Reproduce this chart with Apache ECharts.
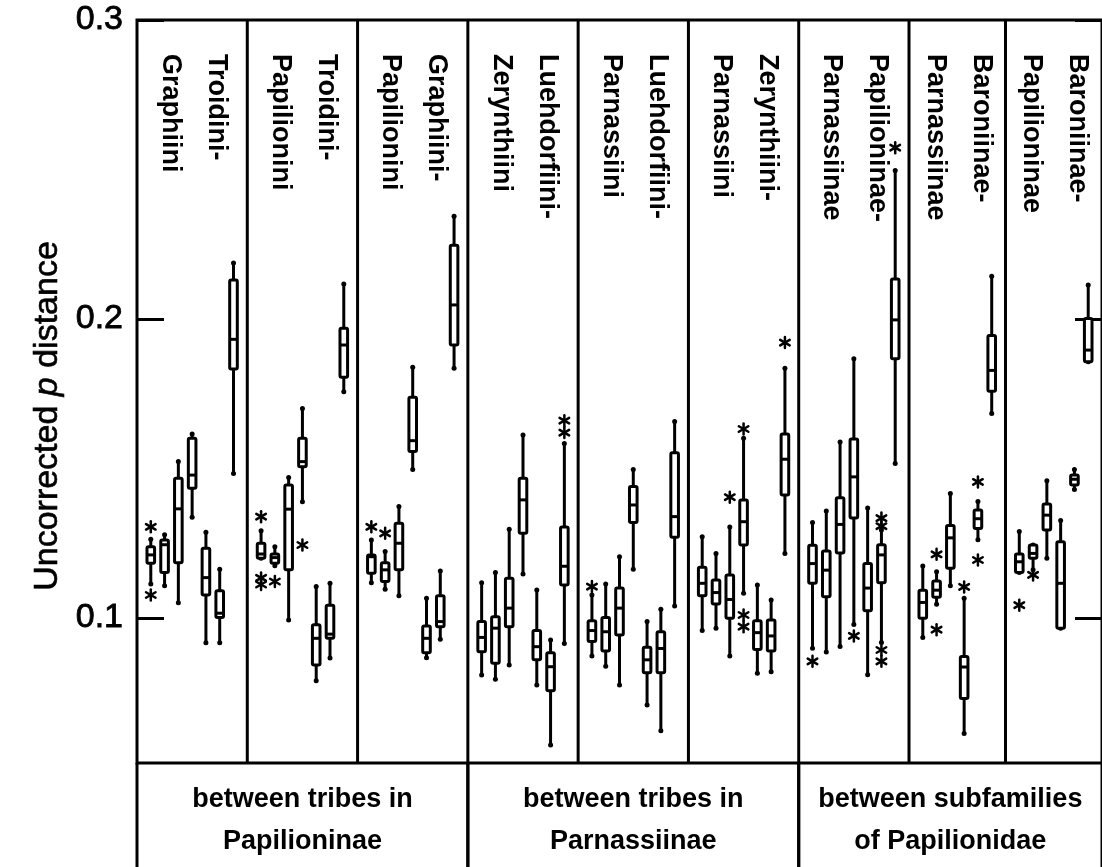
<!DOCTYPE html>
<html>
<head>
<meta charset="utf-8">
<script src="https://cdn.jsdelivr.net/npm/echarts@6/dist/echarts.min.js"></script>
<style>
  html, body { margin: 0; padding: 0; background: #fff; }
  #chart { width: 1102px; height: 867px; }
</style>
</head>
<body>
<div id="chart"></div>
<script>
// Pairwise comparison captions, one per panel (line 1, line 2)
const panelTitles = [
  ['Troidini-', 'Graphiini'],
  ['Troidini-', 'Papilionini'],
  ['Graphiini-', 'Papilionini'],
  ['Luehdorfiini-', 'Zerynthiini'],
  ['Luehdorfiini-', 'Parnassiini'],
  ['Zerynthiini-', 'Parnassiini'],
  ['Papilioninae-', 'Parnassiinae'],
  ['Baroniinae-', 'Parnassiinae'],
  ['Baroniinae-', 'Papilioninae']
];

// Group captions under the panels and the panel ranges they cover
const groupLabels = [
  ['between tribes in', 'Papilioninae'],
  ['between tribes in', 'Parnassiinae'],
  ['between subfamilies', 'of Papilionidae']
];
const groupPanels = [[0, 3], [3, 6], [6, 9]];

const yTicks = [0.1, 0.2, 0.3];

// Box summaries per panel: [low whisker, Q1, median, Q3, high whisker]
const panel1 = [
  [0.1114, 0.1183, 0.1211, 0.1238, 0.1263],
  [0.1108, 0.1152, 0.1245, 0.1261, 0.1278],
  [0.1051, 0.1185, 0.1365, 0.1467, 0.1523],
  [0.1337, 0.1434, 0.1478, 0.1601, 0.1615],
  [0.0917, 0.1077, 0.1135, 0.1233, 0.1287],
  [0.0917, 0.1002, 0.1016, 0.1091, 0.1163],
  [0.1483, 0.1833, 0.1932, 0.2130, 0.2187]
];
const panel2 = [
  [0.1200, 0.1200, 0.1214, 0.1250, 0.1292],
  [0.1175, 0.1183, 0.1202, 0.1214, 0.1238],
  [0.0993, 0.1161, 0.1364, 0.1445, 0.1470],
  [0.1389, 0.1506, 0.1523, 0.1601, 0.1701],
  [0.0790, 0.0843, 0.0932, 0.0977, 0.1105],
  [0.0866, 0.0932, 0.0946, 0.1043, 0.1116],
  [0.1757, 0.1805, 0.1913, 0.1969, 0.2117]
];
const panel3 = [
  [0.1118, 0.1150, 0.1205, 0.1211, 0.1261],
  [0.1096, 0.1122, 0.1161, 0.1185, 0.1222],
  [0.1074, 0.1161, 0.1250, 0.1317, 0.1373],
  [0.1497, 0.1557, 0.1593, 0.1738, 0.1839],
  [0.0867, 0.0884, 0.0932, 0.0973, 0.1066],
  [0.0929, 0.0971, 0.0988, 0.1074, 0.1157],
  [0.1835, 0.1913, 0.2047, 0.2247, 0.2344]
];
const panel4 = [
  [0.0809, 0.0887, 0.0935, 0.0988, 0.1118],
  [0.0795, 0.0849, 0.0966, 0.1004, 0.1152],
  [0.0843, 0.0971, 0.1033, 0.1133, 0.1297],
  [0.1147, 0.1283, 0.1395, 0.1467, 0.1612],
  [0.0776, 0.0860, 0.0904, 0.0958, 0.1094],
  [0.0575, 0.0757, 0.0837, 0.0884, 0.0926],
  [0.0915, 0.1110, 0.1173, 0.1304, 0.1584]
];
const panel5 = [
  [0.0873, 0.0921, 0.0958, 0.0991, 0.1077],
  [0.0839, 0.0890, 0.0954, 0.1002, 0.1114],
  [0.0776, 0.0943, 0.1033, 0.1100, 0.1205],
  [0.1163, 0.1319, 0.1378, 0.1440, 0.1497],
  [0.0709, 0.0817, 0.0860, 0.0902, 0.0988],
  [0.0623, 0.0817, 0.0898, 0.0954, 0.1029],
  [0.1040, 0.1270, 0.1339, 0.1553, 0.1657]
];
const panel6 = [
  [0.0958, 0.1074, 0.1116, 0.1170, 0.1272],
  [0.0966, 0.1047, 0.1085, 0.1127, 0.1216],
  [0.0873, 0.0999, 0.1062, 0.1144, 0.1304],
  [0.1083, 0.1244, 0.1322, 0.1395, 0.1601],
  [0.0815, 0.0895, 0.0951, 0.0991, 0.1110],
  [0.0820, 0.0890, 0.0940, 0.0993, 0.1060],
  [0.1216, 0.1411, 0.1531, 0.1615, 0.1835]
];
const panel7 = [
  [0.0899, 0.1116, 0.1182, 0.1243, 0.1319],
  [0.0886, 0.1071, 0.1160, 0.1224, 0.1358],
  [0.0905, 0.1217, 0.1313, 0.1402, 0.1589],
  [0.0978, 0.1334, 0.1472, 0.1599, 0.1867],
  [0.0810, 0.1024, 0.1100, 0.1182, 0.1368],
  [0.0918, 0.1118, 0.1211, 0.1245, 0.1294],
  [0.1517, 0.1867, 0.1997, 0.2134, 0.2497]
];
const panel8 = [
  [0.0935, 0.0999, 0.1052, 0.1093, 0.1174],
  [0.1046, 0.1069, 0.1093, 0.1124, 0.1155],
  [0.1108, 0.1166, 0.1268, 0.1309, 0.1416],
  [0.0614, 0.0731, 0.0836, 0.0871, 0.1066],
  [0.1262, 0.1299, 0.1332, 0.1361, 0.1390],
  [0.1684, 0.1758, 0.1828, 0.1945, 0.2143]
];
const panel9 = [
  [0.1152, 0.1152, 0.1188, 0.1214, 0.1289],
  [0.1161, 0.1200, 0.1216, 0.1244, 0.1244],
  [0.1200, 0.1294, 0.1344, 0.1381, 0.1459],
  [0.0966, 0.0966, 0.1116, 0.1255, 0.1326],
  [0.1430, 0.1445, 0.1464, 0.1478, 0.1497],
  [0.1857, 0.1857, 0.1896, 0.2002, 0.2114]
];

// Outliers per panel: [box index, value]
const outliers1 = [[0, 0.1305], [0, 0.1077]];
const outliers2 = [[0, 0.1339], [0, 0.1134], [0, 0.1112], [1, 0.1122], [3, 0.1244]];
const outliers3 = [[0, 0.1305], [1, 0.1283]];
const outliers4 = [[6, 0.1660], [6, 0.1620]];
const outliers5 = [[0, 0.1105]];
const outliers6 = [[2, 0.1404], [3, 0.1632], [3, 0.1010], [3, 0.0971], [6, 0.1921]];
const outliers7 = [[0, 0.0855], [3, 0.0940], [5, 0.1334], [5, 0.1307], [5, 0.0893], [5, 0.0855], [6, 0.2573]];
const outliers8 = [[1, 0.1213], [1, 0.0961], [3, 0.1104], [4, 0.1455], [4, 0.1194]];
const outliers9 = [[0, 0.1043], [1, 0.1144]];

const panels = [panel1, panel2, panel3, panel4, panel5, panel6, panel7, panel8, panel9];
const outlierSets = [outliers1, outliers2, outliers3, outliers4, outliers5, outliers6, outliers7, outliers8, outliers9];

// Each panel holds its boxes plus one spare slot, split half on each side
const panelStart = [];
let slots = 0;
panels.forEach(p => { panelStart.push(slots); slots += p.length + 1; });
const totalSlots = slots;

const boxData = [];
panels.forEach((p, pi) => p.forEach((b, bi) => boxData.push([panelStart[pi] + bi + 1, ...b])));
const outlierData = [];
outlierSets.forEach((os, pi) => os.forEach(([bi, v]) => outlierData.push([panelStart[pi] + bi + 1, v])));

const FONT = '"Liberation Sans", Arial, Helvetica, sans-serif';
const INK = '#000';

const chart = echarts.init(document.getElementById('chart'), null, { renderer: 'canvas' });

const option = {
  backgroundColor: '#fff',
  animation: false,
  grid: {
    left: 137, top: 20, width: 972, height: 743,
    show: true, borderColor: INK, borderWidth: 3, backgroundColor: 'transparent'
  },
  xAxis: { type: 'value', min: 0, max: totalSlots, show: false },
  yAxis: [
    {
      type: 'value', min: 0.0515, max: 0.3, position: 'left',
      axisLine: { show: false },
      splitLine: { show: false },
      axisTick: { show: true, inside: true, length: 27, lineStyle: { color: INK, width: 3 }, customValues: yTicks },
      axisLabel: {
        show: true, customValues: yTicks, margin: 14, color: INK,
        fontSize: 34, fontFamily: FONT, formatter: v => v.toFixed(1),
        textBorderColor: INK, textBorderWidth: 0.8
      }
    },
    {
      type: 'value', min: 0.0515, max: 0.3, position: 'right',
      axisLine: { show: false },
      splitLine: { show: false },
      axisTick: { show: true, inside: true, length: 27, lineStyle: { color: INK, width: 3 }, customValues: yTicks },
      axisLabel: { show: false }
    }
  ],
  series: [
    {
      type: 'custom',
      name: 'boxes',
      data: boxData,
      encode: { x: 0, y: [1, 2, 3, 4, 5] },
      renderItem: function (params, api) {
        const x = api.value(0);
        const lo = api.coord([x, api.value(1)]);
        const q1 = api.coord([x, api.value(2)]);
        const md = api.coord([x, api.value(3)]);
        const q3 = api.coord([x, api.value(4)]);
        const hi = api.coord([x, api.value(5)]);
        const cx = lo[0];
        const hw = 3.8;
        const line = { stroke: INK, lineWidth: 3, lineCap: 'round' };
        return {
          type: 'group',
          children: [
            { type: 'line', shape: { x1: cx, y1: hi[1], x2: cx, y2: lo[1] }, style: line },
            { type: 'circle', shape: { cx: cx, cy: hi[1], r: 2.5 }, style: { fill: INK } },
            { type: 'circle', shape: { cx: cx, cy: lo[1], r: 2.5 }, style: { fill: INK } },
            {
              type: 'rect',
              shape: { x: cx - hw, y: q3[1], width: hw * 2, height: Math.max(q1[1] - q3[1], 1), r: 1.5 },
              style: { fill: '#fff', stroke: INK, lineWidth: 3 }
            },
            { type: 'line', shape: { x1: cx - hw, y1: md[1], x2: cx + hw, y2: md[1] }, style: { stroke: INK, lineWidth: 3 } }
          ]
        };
      }
    },
    {
      type: 'custom',
      name: 'outliers',
      data: outlierData,
      encode: { x: 0, y: 1 },
      renderItem: function (params, api) {
        const p = api.coord([api.value(0), api.value(1)]);
        const r = 5.5, c = r * Math.cos(Math.PI / 6), s = r * Math.sin(Math.PI / 6);
        const st = { stroke: INK, lineWidth: 2.5, lineCap: 'round' };
        return {
          type: 'group',
          children: [
            { type: 'line', shape: { x1: p[0], y1: p[1] - r, x2: p[0], y2: p[1] + r }, style: st },
            { type: 'line', shape: { x1: p[0] - c, y1: p[1] - s, x2: p[0] + c, y2: p[1] + s }, style: st },
            { type: 'line', shape: { x1: p[0] - c, y1: p[1] + s, x2: p[0] + c, y2: p[1] - s }, style: st }
          ]
        };
      }
    }
  ]
};

chart.setOption(option);

// Panel dividers, captions, group table and axis title
function px(x, y) { return chart.convertToPixel({ gridIndex: 0 }, [x, y]); }
const gTop = px(0, 0.3)[1];
const gBottom = px(0, 0.0515)[1];
const pageBottom = 867;
const elements = [];
const stroke = { stroke: INK, lineWidth: 3 };
const textStyle = (extra) => Object.assign({
  fill: INK, fontSize: 27, fontWeight: 'bold', fontFamily: FONT
}, extra);

// vertical dividers between panels
panelStart.slice(1).forEach(s => {
  const x = px(s, 0.1)[0];
  elements.push({ type: 'line', shape: { x1: x, y1: gTop, x2: x, y2: gBottom }, style: stroke, z: 10 });
});
// table under the plot: outer left edge and group boundaries
groupPanels.forEach(([a, b], gi) => {
  const xa = px(panelStart[a], 0.1)[0];
  const xb = px(b < panels.length ? panelStart[b] : totalSlots, 0.1)[0];
  elements.push({ type: 'line', shape: { x1: xa, y1: gBottom, x2: xa, y2: pageBottom }, style: stroke, z: 10 });
  elements.push({ type: 'line', shape: { x1: xb, y1: gBottom, x2: xb, y2: pageBottom }, style: stroke, z: 10 });
  elements.push({
    type: 'text', x: (xa + xb) / 2, y: gBottom + 58, z: 10,
    style: textStyle({
      text: groupLabels[gi].join('\n'),
      align: 'center', verticalAlign: 'middle', lineHeight: 42
    })
  });
});
// panel captions, read top to bottom
panelTitles.forEach((t, pi) => {
  const x0 = px(panelStart[pi], 0.1)[0];
  const x1 = px(panelStart[pi] + panels[pi].length + 1, 0.1)[0];
  elements.push({
    type: 'text', x: (x0 + x1) / 2 + 1, y: gTop + 34, rotation: -Math.PI / 2, z: 10,
    style: textStyle({
      text: t.join('\n'),
      align: 'left', verticalAlign: 'middle', lineHeight: 46
    })
  });
});
// y axis title with italic p
elements.push({
  type: 'text', x: 48, y: 416, rotation: Math.PI / 2, z: 10,
  style: {
    text: '{a|Uncorrected }{i|p}{a| distance}',
    align: 'center', verticalAlign: 'middle',
    fill: INK, stroke: INK, lineWidth: 0.6,
    rich: {
      a: { fontSize: 34, fontFamily: FONT },
      i: { fontSize: 34, fontFamily: FONT, fontStyle: 'italic' }
    }
  }
});

chart.setOption({ graphic: { elements: elements } });
</script>
</body>
</html>
